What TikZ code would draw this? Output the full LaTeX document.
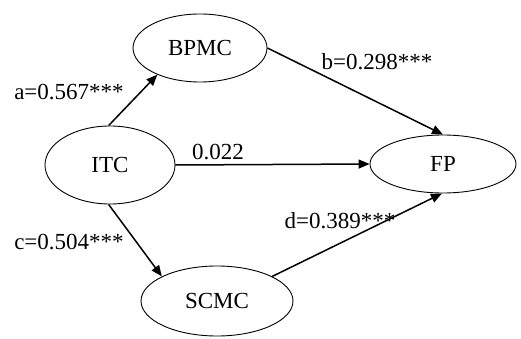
\documentclass[tikz,border=0pt]{standalone}
\usepackage{fontspec}
\setmainfont{Liberation Serif}
\usetikzlibrary{shapes.geometric,arrows.meta}
\begin{document}
\begin{tikzpicture}[x=1pt,y=-1pt,
  construct/.style={draw,ellipse,line width=0.9pt,inner sep=0pt,
    font=\fontsize{23}{27}\selectfont},
  path/.style={line width=1.5pt,-{Triangle[length=11pt,width=9pt]}},
  coef/.style={font=\fontsize{23}{27}\selectfont,inner sep=0pt}]
\useasboundingbox (0,0) rectangle (521,339);
% latent constructs
\node[construct,minimum width=134pt,minimum height=68pt] (BPMC) at (200,48) {BPMC};
\node[construct,minimum width=130pt,minimum height=78pt] (ITC) at (110,165) {ITC};
\node[construct,minimum width=152pt,minimum height=70pt] (SCMC) at (217,301) {SCMC};
\node[construct,minimum width=146pt,minimum height=58pt] (FP) at (443,164) {FP};
% structural paths
\draw[path] (ITC.92) -- (BPMC.212);
\draw[path] (ITC.268) -- (SCMC.156);
\draw[path] (ITC.east) -- (FP.west);
\draw[path] (BPMC.east) -- (FP.north);
\draw[path] (SCMC.24) -- (FP.268);
% path coefficients
\node[coef] (la) at (69,92) {a=0.567***};
\node[coef] (lb) at (377,62) {b=0.298***};
\node[coef] (ld) at (218,152) {0.022};
\node[coef] (lc) at (69,242) {c=0.504***};
\node[coef] (le) at (340,221) {d=0.389***};
\end{tikzpicture}
\end{document}
